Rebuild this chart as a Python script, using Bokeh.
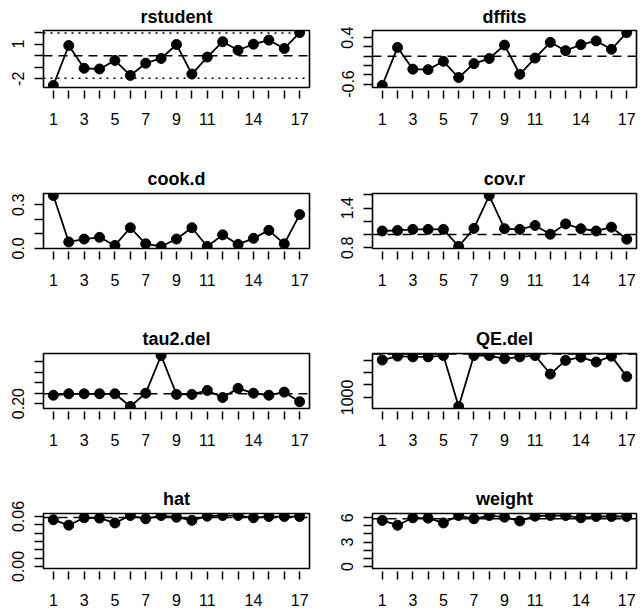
from bokeh.plotting import figure
from bokeh.layouts import gridplot
from bokeh.models import FixedTicker, Range1d, Span
from bokeh.embed import file_html
from bokeh.resources import INLINE

# ---------------- data ----------------
study = list(range(1, 18))
x_tick_labels = {1: "1", 3: "3", 5: "5", 7: "7", 9: "9", 11: "11", 14: "14", 17: "17"}

rstudent = [-2.57, 0.88, -1.09, -1.15, -0.41, -1.71, -0.65, -0.24, 0.97, -1.59,
            -0.12, 1.21, 0.47, 1.00, 1.35, 0.62, 2.00]
dffits = [-0.63, 0.19, -0.28, -0.29, -0.11, -0.46, -0.16, -0.05, 0.24, -0.39,
          -0.04, 0.30, 0.12, 0.25, 0.33, 0.15, 0.51]
cook_d = [0.364, 0.044, 0.064, 0.076, 0.020, 0.142, 0.031, 0.013, 0.064, 0.142,
          0.013, 0.093, 0.027, 0.069, 0.124, 0.031, 0.233]
cov_r = [1.054, 1.063, 1.078, 1.078, 1.078, 0.82, 1.093, 1.59, 1.088, 1.078,
         1.137, 1.005, 1.161, 1.088, 1.054, 1.112, 0.93]
tau2_del = [0.240, 0.247, 0.247, 0.247, 0.247, 0.186, 0.250, 0.431, 0.244, 0.244,
            0.263, 0.229, 0.273, 0.250, 0.240, 0.255, 0.209]
QE_del = [1600, 1662, 1651, 1651, 1672, 855, 1672, 1672, 1620, 1651,
          1672, 1375, 1594, 1646, 1568, 1662, 1334]
hat = [0.0561, 0.0496, 0.0585, 0.0581, 0.0523, 0.0612, 0.0573, 0.0612, 0.0592, 0.0554,
       0.0604, 0.0612, 0.0612, 0.0585, 0.0600, 0.0600, 0.0600]
weight = [5.67, 5.08, 5.99, 5.95, 5.36, 6.27, 5.87, 6.27, 6.07, 5.60,
          6.19, 6.27, 6.27, 5.99, 6.15, 6.15, 6.15]

# reference lines
rstudent_ref, rstudent_bounds = 0.0, [-1.96, 1.96]
dffits_ref = 0.0
cov_r_ref = 1.0
tau2_del_ref = 0.247
QE_del_ref = 1695
hat_ref = 0.0588
weight_ref = 5.88

# y ticks and their labels
rstudent_ticks, rstudent_labels = [-2, -1, 0, 1, 2], {-2: "-2", 1: "1"}
dffits_ticks, dffits_labels = [-0.6, -0.4, -0.2, 0.0, 0.2, 0.4], {-0.6: "-0.6", 0.4: "0.4"}
cook_ticks, cook_labels = [0.0, 0.1, 0.2, 0.3], {0.0: "0.0", 0.3: "0.3"}
covr_ticks, covr_labels = [0.8, 1.0, 1.2, 1.4, 1.6], {0.8: "0.8", 1.4: "1.4"}
tau2_ticks, tau2_labels = [0.2, 0.25, 0.3, 0.35, 0.4], {0.2: "0.20"}
QE_ticks, QE_labels = [1000, 1200, 1400, 1600], {1000: "1000"}
hat_ticks, hat_labels = [0.0, 0.01, 0.02, 0.03, 0.04, 0.05, 0.06], {0.0: "0.00", 0.06: "0.06"}
weight_ticks, weight_labels = [0, 1, 2, 3, 4, 5, 6], {0: "0", 3: "3", 6: "6"}

# ---------------- layout ----------------
FONT = "Liberation Sans"
FRAME_H = 57
cols = [dict(width=321, mbl=43, mbr=12), dict(width=321, mbl=51, mbr=6)]
rows = [dict(height=161, mbt=30, standoff=8),
        dict(height=160, mbt=30, standoff=10),
        dict(height=160, mbt=30, standoff=10),
        dict(height=131, mbt=30, standoff=10)]


def panel(name, values, yticks, ylabels, r, c, ref=None, dotted=None, zero=False):
    lo, hi = min(values), max(values)
    if zero:
        lo = min(lo, 0)
    pad = 0.04 * (hi - lo)
    ro, co = rows[r], cols[c]
    p = figure(width=co["width"], height=ro["height"],
               min_border_left=co["mbl"], min_border_right=co["mbr"],
               min_border_top=ro["mbt"],
               min_border_bottom=ro["height"] - ro["mbt"] - FRAME_H,
               x_range=Range1d(0.36, 17.64), y_range=Range1d(lo - pad, hi + pad),
               output_backend="svg", toolbar_location=None, title=name)
    p.title.align = "center"
    p.title.text_font = FONT
    p.title.text_font_size = "18px"
    p.title.text_font_style = "bold"
    p.title.text_color = "black"
    p.title.standoff = ro["standoff"]
    p.grid.visible = False
    p.outline_line_color = "black"
    p.outline_line_width = 1.6
    p.background_fill_color = "white"
    p.border_fill_color = "white"

    xa = p.xaxis[0]
    xa.ticker = FixedTicker(ticks=study)
    xa.major_label_overrides = {i: x_tick_labels.get(i, "") for i in study}
    xa.axis_line_color = None
    xa.minor_tick_line_color = None
    xa.major_tick_in = -3
    xa.major_tick_out = 11
    xa.major_tick_line_width = 1.5
    xa.major_tick_line_color = "black"
    xa.major_label_standoff = 14
    xa.major_label_text_font = FONT
    xa.major_label_text_font_size = "16px"
    xa.major_label_text_color = "black"

    ya = p.yaxis[0]
    ya.ticker = FixedTicker(ticks=yticks)
    ya.major_label_overrides = {t: ylabels.get(t, "") for t in yticks}
    ya.major_label_orientation = "vertical"
    ya.axis_line_color = None
    ya.minor_tick_line_color = None
    ya.major_tick_in = 0
    ya.major_tick_out = 9
    ya.major_tick_line_width = 1.5
    ya.major_tick_line_color = "black"
    ya.major_label_standoff = 10
    ya.major_label_text_font = FONT
    ya.major_label_text_font_size = "16px"
    ya.major_label_text_color = "black"

    if ref is not None:
        p.add_layout(Span(location=ref, dimension="width", line_color="black",
                          line_width=1.5, line_dash="9 6"))
    if dotted is not None:
        for d in dotted:
            p.add_layout(Span(location=d, dimension="width", line_color="black",
                              line_width=1.5, line_dash="2 5"))
    p.line(study, values, line_color="black", line_width=1.8)
    p.scatter(study, values, size=10, color="black")
    return p


p1 = panel("rstudent", rstudent, rstudent_ticks, rstudent_labels, 0, 0,
           ref=rstudent_ref, dotted=rstudent_bounds)
p2 = panel("dffits", dffits, dffits_ticks, dffits_labels, 0, 1, ref=dffits_ref)
p3 = panel("cook.d", cook_d, cook_ticks, cook_labels, 1, 0)
p4 = panel("cov.r", cov_r, covr_ticks, covr_labels, 1, 1, ref=cov_r_ref)
p5 = panel("tau2.del", tau2_del, tau2_ticks, tau2_labels, 2, 0, ref=tau2_del_ref)
p6 = panel("QE.del", QE_del, QE_ticks, QE_labels, 2, 1, ref=QE_del_ref)
p7 = panel("hat", hat, hat_ticks, hat_labels, 3, 0, ref=hat_ref, zero=True)
p8 = panel("weight", weight, weight_ticks, weight_labels, 3, 1, ref=weight_ref, zero=True)

grid = gridplot([[p1, p2], [p3, p4], [p5, p6], [p7, p8]], toolbar_location=None)

open("out.html", "w").write(file_html(grid, INLINE))
